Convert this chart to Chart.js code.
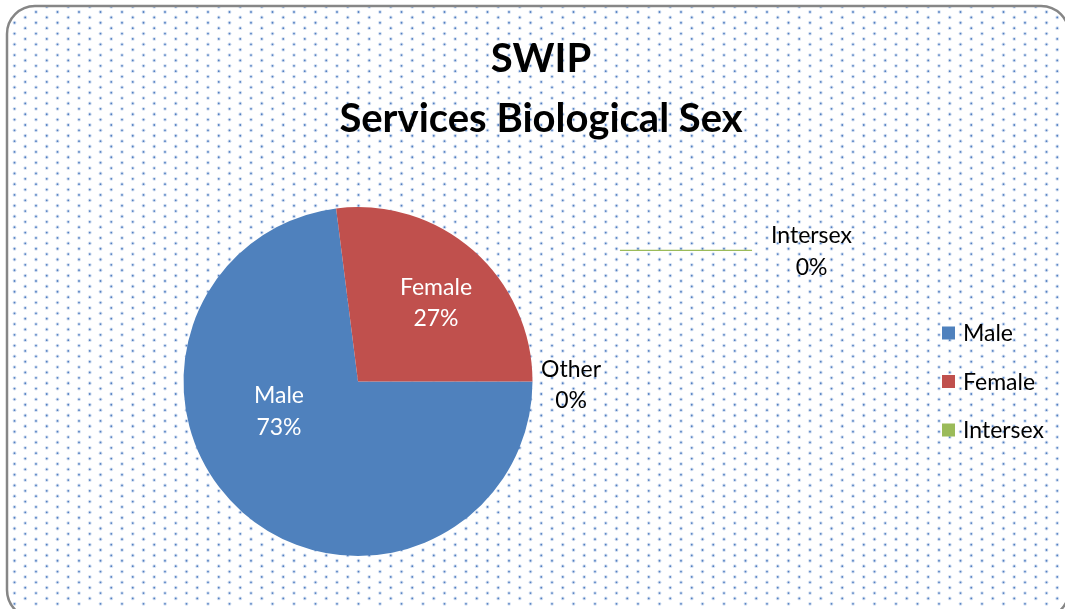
<!DOCTYPE html>
<html>
<head>
<meta charset="utf-8">
<script src="https://cdn.jsdelivr.net/npm/chart.js@4.4.0/dist/chart.umd.min.js"></script>
<style>
  html, body { margin: 0; padding: 0; background: #fff; }
</style>
</head>
<body>
<canvas id="my-chart" width="1065" height="609"></canvas>
<script>
// chart data
const titleLines = ['SWIP', 'Services Biological Sex'];
const categories = ['Male', 'Female', 'Intersex', 'Other'];
const values = [73, 27, 0, 0];
const legendLabels = ['Male', 'Female', 'Intersex'];
const sliceColors = ['#4F81BD', '#C0504D', '#9BBB59', '#8064A2'];

// where each data label sits, in units of the pie radius from its centre
const labelSpots = [[-0.453, 0.169], [0.447, -0.453], [2.599, -0.748], [1.221, 0.017]];
const labelInside = [true, true, false, false];

const total = values.reduce((a, b) => a + b, 0);
const percents = values.map(v => Math.round(v / total * 100) + '%');

const labelFont = '23px Lato';
const capH = 16;

const decor = {
    id: 'decor',
    beforeDraw(chart) {
        const ctx = chart.ctx;
        const w = chart.width, h = chart.height;
        ctx.save();
        ctx.fillStyle = '#fff';
        ctx.fillRect(0, 0, w, h);

        ctx.beginPath();
        ctx.roundRect(7, 6, w - 3, h + 3, 28);
        ctx.save();
        ctx.clip();
        // dotted fill
        for (let r = 0, y = 1.25; y < h; r++, y += 5.38) {
            for (let x = (r % 2) ? 3.75 : 14.5; x < w; x += 21.5) {
                ctx.fillStyle = 'rgba(110,150,210,0.3)';
                ctx.beginPath();
                ctx.arc(x, y, 1.9, 0, Math.PI * 2);
                ctx.fill();
                ctx.fillStyle = 'rgba(60,110,185,0.85)';
                ctx.beginPath();
                ctx.arc(x, y, 0.9, 0, Math.PI * 2);
                ctx.fill();
            }
        }
        ctx.restore();
        ctx.beginPath();
        ctx.roundRect(7, 6, w - 3, h + 3, 28);
        ctx.strokeStyle = '#868686';
        ctx.lineWidth = 2.5;
        ctx.stroke();
        ctx.restore();
    },
    afterDatasetsDraw(chart) {
        const ctx = chart.ctx;
        const arc = chart.getDatasetMeta(0).data[0];
        const cx = arc.x, cy = arc.y, r = arc.outerRadius;
        ctx.save();
        // leader line for Intersex
        ctx.strokeStyle = sliceColors[2];
        ctx.lineWidth = 1.2;
        ctx.beginPath();
        ctx.moveTo(cx + 1.501 * r, cy - 0.751 * r);
        ctx.lineTo(cx + 2.258 * r, cy - 0.751 * r);
        ctx.stroke();

        ctx.font = labelFont;
        ctx.textAlign = 'center';
        ctx.textBaseline = 'alphabetic';
        categories.forEach((c, i) => {
            const x = cx + labelSpots[i][0] * r;
            const y = cy + labelSpots[i][1] * r;
            ctx.fillStyle = labelInside[i] ? '#fff' : '#000';
            ctx.fillText(c, x, y - 15.75 + capH / 2);
            ctx.fillText(percents[i], x, y + 15.75 + capH / 2);
        });
        ctx.restore();
    },
    afterDraw(chart) {
        const ctx = chart.ctx;
        ctx.save();
        ctx.fillStyle = '#000';
        ctx.textAlign = 'center';
        ctx.textBaseline = 'alphabetic';
        ctx.font = 'bold 40px Lato';
        ctx.fillText(titleLines[0], 541, 72);
        ctx.fillText(titleLines[1], 541, 131.5);

        // legend
        ctx.textAlign = 'left';
        ctx.font = labelFont;
        legendLabels.forEach((lab, i) => {
            const idx = categories.indexOf(lab);
            const yc = 333 + i * 48.5;
            ctx.fillStyle = sliceColors[idx];
            ctx.fillRect(942, yc - 6.5, 13, 13);
            ctx.fillStyle = '#000';
            ctx.fillText(lab, 963, yc + capH / 2);
        });
        ctx.restore();
    }
};

const ctx = document.getElementById('my-chart').getContext('2d');
const chart = new Chart(ctx, {
    type: 'pie',
    data: {
        labels: categories,
        datasets: [{
            data: values,
            backgroundColor: sliceColors,
            borderWidth: 0,
            hoverOffset: 0,
            offset: 0
        }]
    },
    options: {
        responsive: false,
        animation: false,
        devicePixelRatio: 1,
        rotation: 90,
        layout: { padding: { left: 183, right: 532, top: 207, bottom: 53 } },
        plugins: {
            legend: { display: false },
            title: { display: false },
            tooltip: { enabled: false }
        }
    },
    plugins: [decor]
});
</script>
</body>
</html>
